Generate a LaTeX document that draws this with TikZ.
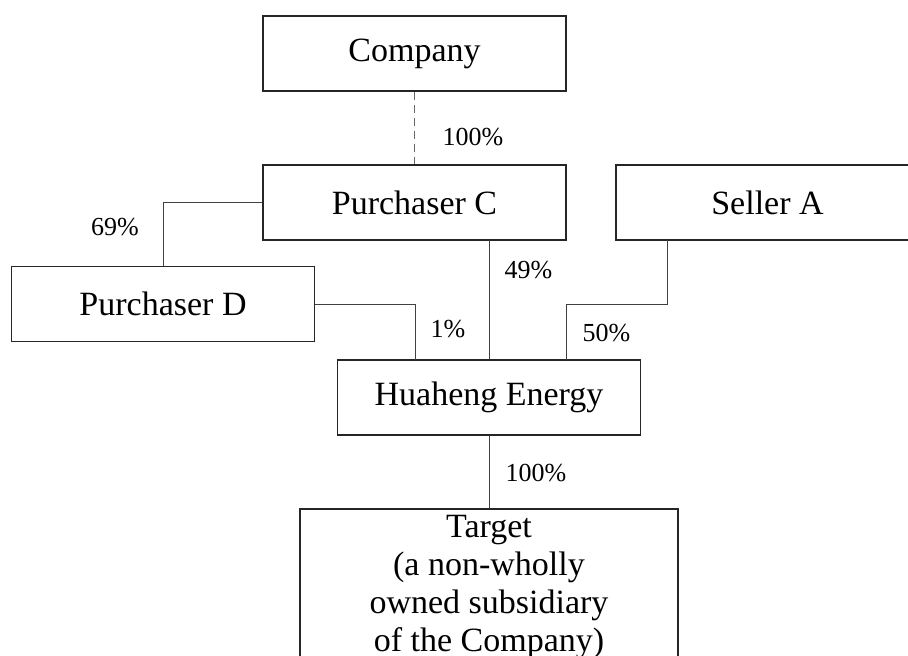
\documentclass[tikz,border=0pt]{standalone}
\usepackage{fontspec}
\setmainfont{Liberation Serif}
\usepackage{tikz}
\usetikzlibrary{positioning}

\begin{document}
\begin{tikzpicture}
[x=0.5pt,y=-0.5pt,
box/.style={draw=black!85,line width=0.6pt,minimum width=151.5pt,minimum height=37.5pt,inner sep=0pt,font=\fontsize{17}{19}\selectfont},
share/.style={inner sep=0pt,font=\fontsize{13}{15}\selectfont},
link/.style={draw=black!75,line width=0.5pt}]
\useasboundingbox (0,0) rectangle (908,655);

\node[box] (co) at (414.5,53.5) {Company};
\node[box] (pc) at (414.5,202.5) {Purchaser C};
\node[box] (sa) at (767.5,202.5) {Seller A};
\node[box] (pd) at (163,304) {Purchaser D};
\node[box] (he) at (489,397.5) {Huaheng Energy};
\node[box,minimum width=189pt,minimum height=78pt,align=center] (tg) at (489,587) {Target\\(a non-wholly\\owned subsidiary\\of the Company)};

\coordinate (inD) at (415,360);
\coordinate (outC) at (489,240);
\coordinate (outA) at (667,240);
\coordinate (bendA) at (566,304);
\coordinate (inA) at (566,360);

\node[share] (s1) at (473,137) {100\%};
\node[share] (s2) at (115,227) {69\%};
\node[share] (s3) at (528.5,270) {49\%};
\node[share] (s4) at (448,329) {1\%};
\node[share] (s5) at (606.5,333) {50\%};
\node[share] (s6) at (536,473) {100\%};

\draw [link,draw=black!60,dash pattern=on 4pt off 2.5pt] (co) -- (pc);
\draw [link] (pc.west) -| (pd.north);
\draw [link] (pd.east) -| (inD);
\draw [link] (outC) -- (he.north);
\draw [link] (outA) |- (bendA) -- (inA);
\draw [link] (he) -- (tg);
\end{tikzpicture}
\end{document}
